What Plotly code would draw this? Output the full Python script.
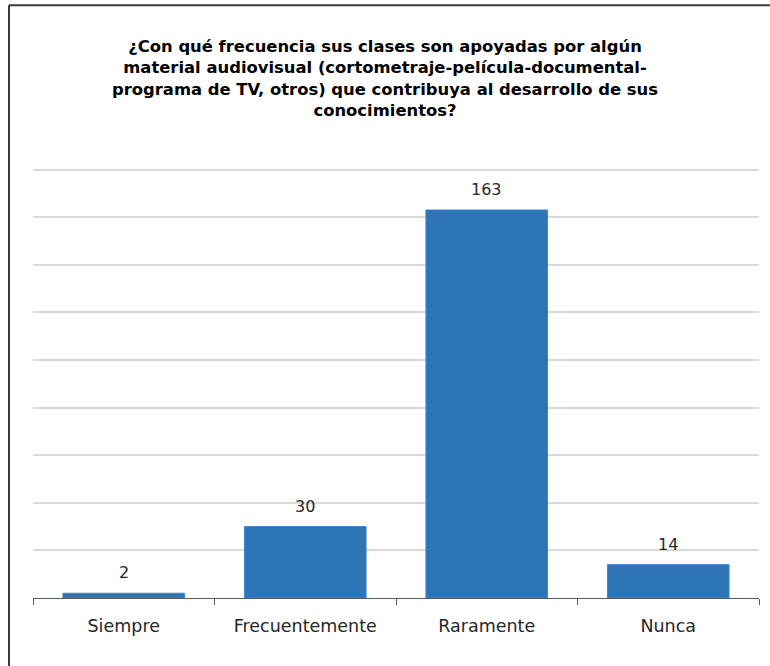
import plotly.graph_objects as go

categories = ["Siempre", "Frecuentemente", "Raramente", "Nunca"]
values = [2, 30, 163, 14]
title_text = ("<b>¿Con qué frecuencia sus clases son apoyadas por algún<br>"
              "material audiovisual (cortometraje-película-documental-<br>"
              "programa de TV, otros) que contribuya al desarrollo de sus<br>"
              "conocimientos?</b>")

W, H = 770, 666
y_max = 184
unit_px = 428 / 180
ml, mr, mb = 33, 11, 68
ph = y_max * unit_px
mt = H - mb - ph
pw = W - ml - mr

def px(x):
    return (x - ml) / pw

def py(y):
    return (H - mb - y) / ph

fig = go.Figure()
fig.add_trace(go.Bar(
    x=categories, y=values,
    marker=dict(color="#2E75B6", line=dict(color="#3A86D4", width=1)),
    width=0.67,
    hoverinfo="x+y",
))

for c, v in zip(categories, values):
    fig.add_annotation(x=c, y=v, text=str(v), showarrow=False,
                       yanchor="bottom", yshift=9,
                       font=dict(family="DejaVu Sans", size=16, color="#262626"))

fig.update_layout(
    width=W, height=H,
    margin=dict(l=ml, r=mr, t=mt, b=mb, pad=0),
    paper_bgcolor="white", plot_bgcolor="white",
    showlegend=False,
    title=dict(text=title_text, x=0.5, xref="container", xanchor="center",
               y=1 - 52 / H, yref="container", yanchor="top",
               font=dict(family="DejaVu Sans", size=16.4, color="#000000")),
    xaxis=dict(type="category", showline=True, linecolor="#595959", linewidth=1,
               ticks="outside", tickson="boundaries", ticklen=6, tickcolor="#595959",
               ticklabelstandoff=12,
               tickfont=dict(family="DejaVu Sans", size=17.5, color="#262626"),
               showgrid=False, zeroline=False),
    yaxis=dict(range=[0, y_max], tick0=0, dtick=20, showticklabels=False, showgrid=True,
               gridcolor="#D9D9D9", gridwidth=1.5, zeroline=False, showline=False,
               fixedrange=True),
    shapes=[
        dict(type="line", xref="paper", yref="paper", x0=px(9), x1=px(9),
             y0=py(6), y1=py(H + 2), line=dict(color="#3A3A3A", width=2)),
        dict(type="line", xref="paper", yref="paper", x0=px(9), x1=px(W + 2),
             y0=py(6), y1=py(6), line=dict(color="#3A3A3A", width=2)),
    ],
)

fig.write_html("out.html", config={"displayModeBar": False},
               post_script="document.body.style.margin='0';")
